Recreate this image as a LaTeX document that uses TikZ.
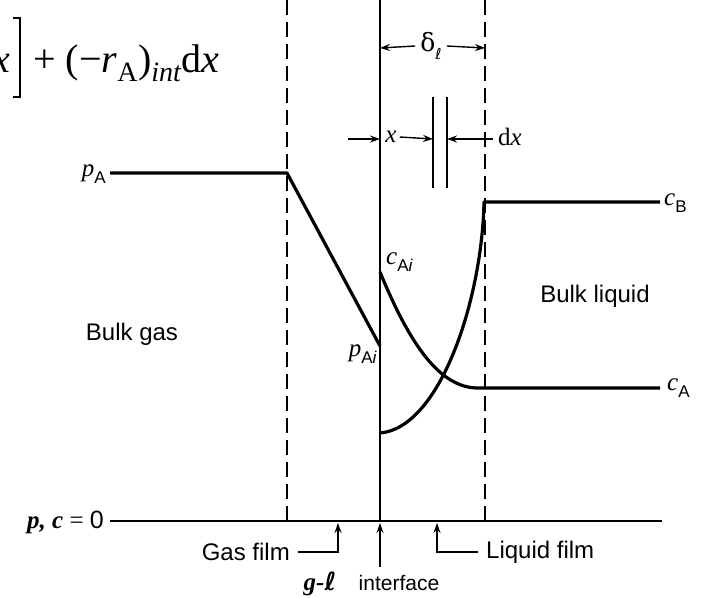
\documentclass[tikz,border=0pt]{standalone}
\usepackage{fontspec}
\setmainfont{Liberation Serif}
\setsansfont{Liberation Sans}
\newfontfamily\dserif{DejaVu Serif}
\newfontfamily\dsans{DejaVu Sans}
\usetikzlibrary{arrows.meta}
\newcommand{\lsub}[1]{\raisebox{-0.28em}{\sffamily\fontsize{17}{18}\selectfont #1}}
\begin{document}
\begin{tikzpicture}[x=1pt,y=-1pt,
  curve/.style={line width=3.2pt, line join=round},
  guide/.style={line width=1.9pt, dash pattern=on 15pt off 7pt},
  solidguide/.style={line width=2pt},
  dim/.style={line width=1.4pt, -{Stealth[length=10pt,width=7pt]}},
  plain/.style={line width=1.4pt},
  lab/.style={font=\sffamily\fontsize{24}{26}\selectfont, inner sep=0pt},
  small/.style={font=\sffamily\fontsize{21}{23}\selectfont, inner sep=0pt},
  var/.style={font=\fontsize{25}{27}\selectfont, inner sep=0pt},
  eq/.style={font=\fontsize{40}{42}\selectfont, inner sep=0pt},
]
\useasboundingbox (0,0) rectangle (701,597);
\clip (0,0) rectangle (701,597);

% guide lines
\coordinate (g1t) at (287,0);   \coordinate (g1b) at (287,521);
\coordinate (it)  at (380,0);   \coordinate (ib)  at (380,521);
\coordinate (l1t) at (485,0);   \coordinate (l1b) at (485,521);
\draw[guide] (g1t) -- (g1b);
\draw[guide] (l1t) -- (l1b);
\draw[solidguide] (it) -- (ib);

% axis
\node[var, anchor=east] (zero) at (104,522) {\textbf{\textit{p, c}} = {\sffamily 0}};
\coordinate (axR) at (662,521);
\draw[solidguide] (zero.east) ++(6,-1) coordinate (axL) -- (axR);

% gas side profile
\node[var, anchor=east] (pA) at (106,174) {\textit{p}\lsub{A}};
\coordinate (pa0) at (110,173);
\coordinate (pa1) at (287,173);
\coordinate (pai) at (380,346);
\draw[curve] (pa0) -- (pa1) -- (pai);
\node[var, anchor=east] (pAi) at (377,354) {\textit{p}\lsub{A\textit{i}}};

% liquid side profiles
\coordinate (cai) at (380,272);
\coordinate (ca1) at (478,388);
\coordinate (ca2) at (660,388);
\draw[curve] (cai) .. controls (410,345) and (440,388) .. (ca1) -- (ca2);
\node[var, anchor=west] (cAi) at (386,262) {\textit{c}\lsub{A\textit{i}}};
\node[var, anchor=west] (cA) at (667,388) {\textit{c}\lsub{A}};

\coordinate (cb0) at (380,433);
\coordinate (cb1) at (484,202);
\coordinate (cb2) at (660,202);
\draw[curve] (cb0) .. controls (440,428) and (482,300) .. (cb1) -- (cb2);
\node[var, anchor=west] (cB) at (664,203) {\textit{c}\lsub{B}};

% region labels
\node[lab] (bgas) at (132,334) {Bulk gas};
\node[lab] (bliq) at (595,296) {Bulk liquid};

% delta dimension
\coordinate (d1) at (380,48);
\coordinate (d2) at (485,48);
\node[var, inner xsep=5pt] (delta) at (431,46) {\dserif δ\raisebox{-0.3em}{\dsans\fontsize{15}{16}\selectfont ℓ}};
\draw[dim] (delta.west) -- (d1);
\draw[dim] (delta.east) -- (d2);

% x and dx dimensions
\coordinate (xa0) at (348,139);
\coordinate (xi) at (380,139);
\draw[dim] (xa0) -- (xi);
\node[var, inner xsep=3pt] (xl) at (391,137) {\textit{x}};
\coordinate (dxl) at (433,139);
\coordinate (dxr) at (447,139);
\draw[dim] (xl.east) -- (dxl);
\coordinate (v1t) at (433,97); \coordinate (v1b) at (433,188);
\coordinate (v2t) at (447,97); \coordinate (v2b) at (447,188);
\draw[plain] (v1t) -- (v1b);
\draw[plain] (v2t) -- (v2b);
\coordinate (dxa) at (467,139);
\coordinate (dxe) at (493,139);
\draw[dim] (dxa) -- (dxr);
\draw[plain] (dxa) -- (dxe);
\node[var, anchor=west] (dx) at (498,137) {d\textit{x}};

% bottom labels
\node[lab, anchor=east] (gasfilm) at (290,552) {Gas film};
\coordinate (gf0) at (298,552);
\coordinate (gfc) at (338,552);
\coordinate (gft) at (338,523);
\draw[dim] (gf0) -- (gfc) -- (gft);
\node[var, font=\fontsize{25}{27}\selectfont\bfseries\itshape] (gl) at (320,584) {g-{\dsans\bfseries\upshape ℓ}};

\coordinate (ia0) at (380,567);
\coordinate (iat) at (380,523);
\draw[dim] (ia0) -- (iat);
\node[small] (interface) at (399,583) {interface};

\node[lab, anchor=west] (liqfilm) at (486,552) {Liquid film};
\coordinate (lf0) at (478,552);
\coordinate (lfc) at (437,552);
\coordinate (lft) at (437,523);
\draw[dim] (lf0) -- (lfc) -- (lft);

% top equation fragment
\node[eq, anchor=base west] (xfrag) at (-8,72) {\textit{x}};
\coordinate (b1) at (13,18); \coordinate (b2) at (20,18);
\coordinate (b3) at (20,97); \coordinate (b4) at (13,97);
\draw[line width=2pt] (b1) -- (b2) -- (b3) -- (b4);
\node[eq, anchor=base west] (eqn) at (33,72) {+ (−\textit{r}\textsubscript{A})\textsubscript{\textit{int}}d\textit{x}};
\end{tikzpicture}
\end{document}
